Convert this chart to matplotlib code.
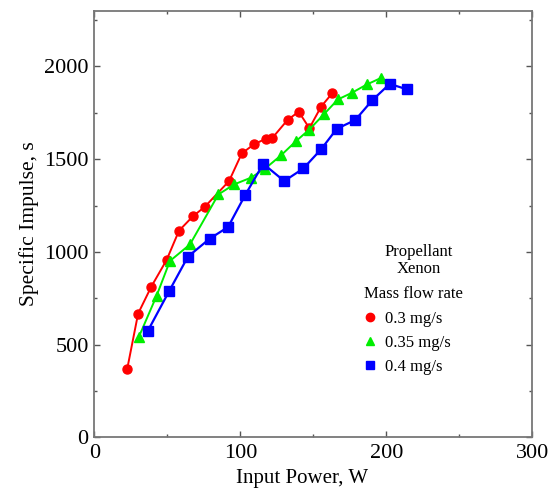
import matplotlib.pyplot as plt
from matplotlib.ticker import MultipleLocator
from matplotlib.lines import Line2D

plt.rcParams['font.family'] = ['Liberation Serif', 'DejaVu Serif']

# 0.3 mg/s
p_03 = [22.5, 30, 39, 49.5, 58, 67.4, 75.8, 92.3, 101, 109.5, 117.5, 122,
        132.4, 140, 147.3, 155.3, 163]
isp_03 = [367, 667, 812, 956, 1114, 1191, 1244, 1382, 1531, 1581, 1610, 1615,
          1712, 1756, 1667, 1783, 1856]

# 0.35 mg/s
p_035 = [30.5, 42.6, 51.8, 65.5, 85, 95.8, 107.2, 116.8, 127.8, 138.1, 147.3,
         157.6, 166.8, 176.4, 186.7, 196.6]
isp_035 = [541, 762, 951, 1040, 1310, 1364, 1400, 1448, 1520, 1597, 1660,
           1745, 1822, 1858, 1903, 1939]

# 0.4 mg/s
p_04 = [36.6, 51.3, 64.1, 79, 91.6, 103.3, 115.7, 130.1, 143.2, 155.3, 166.1,
        178.7, 190.4, 202.3, 214.4]
isp_04 = [573, 789, 974, 1071, 1134, 1306, 1475, 1382, 1450, 1553, 1664,
          1711, 1818, 1906, 1876]

labels = ["0.3 mg/s", "0.35 mg/s", "0.4 mg/s"]

fig = plt.figure(figsize=(5.58, 4.93), dpi=100)
ax = fig.add_axes([0.169, 0.113, 0.785, 0.865])

ax.plot(p_03, isp_03, color="#ff0000", marker="o", ms=6.5, lw=1.4)
ax.plot(p_035, isp_035, color="#00ee00", marker="^", ms=7, lw=1.4)
ax.plot(p_04, isp_04, color="#0000ff", marker="s", ms=7.5, lw=1.6)

ax.set_xlim(0, 300)
ax.set_ylim(0, 2300)
ax.xaxis.set_major_locator(MultipleLocator(100))
ax.xaxis.set_minor_locator(MultipleLocator(50))
ax.yaxis.set_major_locator(MultipleLocator(500))
ax.yaxis.set_minor_locator(MultipleLocator(250))
ax.tick_params(which="both", direction="in", top=True, right=True,
               color="#555555", labelsize=16)
ax.tick_params(axis="x", pad=5)
ax.tick_params(axis="y", pad=4)
ax.tick_params(which="major", length=4.5, width=1)
ax.tick_params(which="minor", length=2.5, width=1)
for s in ax.spines.values():
    s.set_color("#777777")
    s.set_linewidth(1.3)

ax.set_xlabel("Input Power, W", fontsize=15, labelpad=2)
ax.xaxis.set_label_coords(0.474, -0.075)
ax.set_ylabel("Specific Impulse, s", fontsize=15.5, labelpad=4)

ax.text(0.74, 0.415, "Propellant\nXenon", transform=ax.transAxes,
        ha="center", va="center", fontsize=12, linespacing=1.05)

handles = [
    Line2D([], [], color="#ff0000", marker="o", ls="none", ms=6),
    Line2D([], [], color="#00ee00", marker="^", ls="none", ms=6),
    Line2D([], [], color="#0000ff", marker="s", ls="none", ms=6),
]
leg = ax.legend(handles, labels, title="Mass flow rate", frameon=False,
                fontsize=12, title_fontsize=12, loc="upper left",
                bbox_to_anchor=(0.6, 0.37), alignment="left",
                handlelength=0.8, handletextpad=0.5, labelspacing=0.5,
                borderaxespad=0)

fig.savefig("out.png", dpi=100)
